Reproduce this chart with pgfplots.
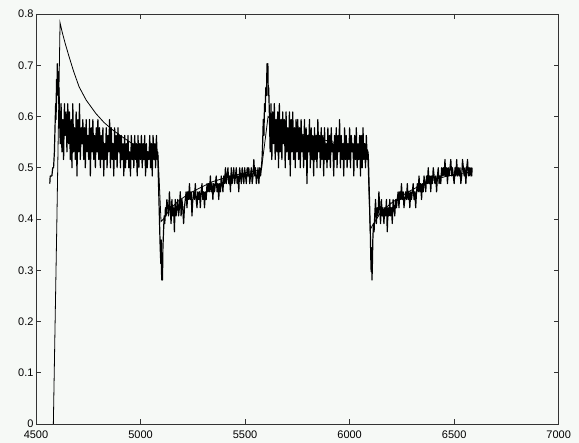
\documentclass[border=0pt]{standalone}
\usepackage{pgfplots}
\usepackage{pgfplotstable}
\pgfplotsset{compat=1.18}
\usepackage{fontspec}
\setmainfont{Liberation Sans}
\definecolor{paper}{RGB}{246,249,246}

% measured output: quantised, noisy
\pgfplotstableread{
x y
4566 0.469
4568 0.484
4572 0.484
4576 0.484
4580 0.500
4584 0.500
4588 0.531
4591 0.578
4594 0.625
4596 0.594
4598 0.672
4600 0.641
4602 0.703
4604 0.656
4606 0.688
4608 0.625
4610 0.656
4612 0.609
4616 0.547
4620 0.625
4624 0.531
4628 0.594
4632 0.516
4636 0.625
4640 0.563
4644 0.609
4648 0.531
4652 0.625
4656 0.547
4660 0.609
4664 0.516
4668 0.594
4672 0.500
4676 0.625
4680 0.531
4684 0.578
4688 0.516
4692 0.609
4696 0.484
4700 0.594
4704 0.531
4708 0.625
4712 0.516
4716 0.578
4720 0.547
4724 0.594
4728 0.516
4732 0.578
4736 0.500
4740 0.594
4744 0.531
4748 0.563
4752 0.516
4756 0.594
4760 0.484
4764 0.578
4768 0.531
4772 0.594
4776 0.516
4780 0.563
4784 0.500
4788 0.578
4792 0.531
4796 0.594
4800 0.516
4804 0.578
4808 0.500
4812 0.563
4816 0.516
4820 0.578
4824 0.484
4828 0.547
4832 0.516
4836 0.578
4840 0.500
4844 0.563
4848 0.531
4852 0.594
4856 0.500
4860 0.578
4864 0.516
4868 0.547
4872 0.484
4876 0.578
4880 0.516
4884 0.563
4888 0.500
4892 0.578
4896 0.531
4900 0.563
4904 0.500
4908 0.563
4912 0.516
4916 0.547
4920 0.484
4924 0.563
4928 0.500
4932 0.547
4936 0.516
4940 0.563
4944 0.500
4948 0.531
4952 0.484
4956 0.563
4960 0.516
4964 0.547
4968 0.500
4972 0.563
4976 0.516
4980 0.547
4984 0.484
4988 0.563
4992 0.500
4996 0.547
5000 0.516
5004 0.563
5008 0.500
5012 0.547
5016 0.516
5020 0.563
5024 0.484
5028 0.547
5032 0.500
5036 0.531
5040 0.516
5044 0.563
5048 0.500
5052 0.547
5056 0.484
5060 0.563
5064 0.516
5068 0.547
5072 0.500
5076 0.563
5080 0.516
5082 0.531
5085 0.484
5088 0.438
5091 0.391
5094 0.344
5097 0.313
5099 0.359
5101 0.281
5103 0.328
5105 0.281
5107 0.344
5110 0.375
5113 0.406
5116 0.391
5119 0.422
5122 0.406
5126 0.438
5130 0.422
5134 0.406
5138 0.453
5142 0.422
5146 0.391
5150 0.438
5154 0.406
5158 0.422
5162 0.375
5166 0.438
5170 0.406
5174 0.422
5178 0.438
5182 0.406
5186 0.422
5190 0.453
5194 0.406
5198 0.438
5202 0.422
5206 0.391
5210 0.422
5214 0.438
5218 0.453
5222 0.422
5226 0.453
5230 0.438
5234 0.469
5238 0.438
5242 0.453
5246 0.406
5250 0.438
5254 0.453
5258 0.438
5262 0.469
5266 0.438
5270 0.422
5274 0.453
5278 0.438
5282 0.453
5286 0.422
5290 0.453
5294 0.469
5298 0.438
5302 0.453
5306 0.422
5310 0.453
5314 0.438
5318 0.469
5322 0.453
5326 0.469
5330 0.453
5334 0.484
5338 0.453
5342 0.469
5346 0.438
5350 0.469
5354 0.453
5358 0.469
5362 0.484
5366 0.453
5370 0.469
5374 0.438
5378 0.469
5382 0.453
5386 0.484
5390 0.469
5394 0.453
5398 0.484
5402 0.469
5406 0.500
5410 0.469
5414 0.484
5418 0.500
5422 0.469
5426 0.484
5430 0.453
5434 0.500
5438 0.469
5442 0.484
5446 0.500
5450 0.469
5454 0.484
5458 0.500
5462 0.469
5466 0.484
5470 0.453
5474 0.500
5478 0.484
5482 0.469
5486 0.500
5490 0.484
5494 0.469
5498 0.500
5502 0.484
5506 0.469
5510 0.500
5514 0.484
5518 0.500
5522 0.469
5526 0.484
5530 0.500
5534 0.469
5538 0.484
5542 0.516
5546 0.484
5550 0.500
5554 0.469
5558 0.484
5562 0.500
5566 0.469
5570 0.500
5574 0.484
5578 0.500
5581 0.516
5584 0.547
5587 0.594
5590 0.563
5593 0.625
5596 0.609
5599 0.656
5602 0.641
5605 0.703
5607 0.672
5609 0.703
5611 0.641
5613 0.656
5616 0.609
5620 0.531
5624 0.625
5628 0.516
5632 0.609
5636 0.547
5640 0.625
5644 0.516
5648 0.594
5652 0.531
5656 0.609
5660 0.500
5664 0.625
5668 0.531
5672 0.594
5676 0.516
5680 0.609
5684 0.547
5688 0.594
5692 0.500
5696 0.609
5700 0.531
5704 0.578
5708 0.516
5712 0.609
5716 0.484
5720 0.594
5724 0.531
5728 0.609
5732 0.516
5736 0.578
5740 0.500
5744 0.594
5748 0.531
5752 0.594
5756 0.516
5760 0.578
5764 0.500
5768 0.594
5772 0.531
5776 0.563
5780 0.500
5784 0.594
5788 0.516
5792 0.578
5796 0.469
5800 0.563
5804 0.531
5808 0.594
5812 0.500
5816 0.578
5820 0.516
5824 0.563
5828 0.484
5832 0.578
5836 0.516
5840 0.563
5844 0.500
5848 0.594
5852 0.531
5856 0.563
5860 0.500
5864 0.578
5868 0.516
5872 0.563
5876 0.484
5880 0.578
5884 0.516
5888 0.547
5892 0.500
5896 0.578
5900 0.516
5904 0.563
5908 0.500
5912 0.578
5916 0.531
5920 0.547
5924 0.484
5928 0.563
5932 0.516
5936 0.578
5940 0.500
5944 0.563
5948 0.531
5952 0.594
5956 0.500
5960 0.563
5964 0.516
5968 0.547
5972 0.484
5976 0.578
5980 0.516
5984 0.563
5988 0.500
5992 0.547
5996 0.516
6000 0.578
6004 0.500
6008 0.563
6012 0.531
6016 0.547
6020 0.484
6024 0.563
6028 0.516
6032 0.578
6036 0.500
6040 0.547
6044 0.516
6048 0.563
6052 0.484
6056 0.563
6060 0.500
6064 0.578
6068 0.516
6072 0.547
6076 0.500
6080 0.563
6084 0.516
6088 0.531
6090 0.516
6093 0.469
6096 0.422
6099 0.375
6101 0.328
6103 0.297
6105 0.344
6107 0.281
6109 0.313
6111 0.359
6114 0.391
6117 0.375
6120 0.406
6124 0.438
6128 0.391
6132 0.422
6136 0.406
6140 0.453
6144 0.422
6148 0.391
6152 0.438
6156 0.406
6160 0.422
6164 0.391
6168 0.422
6172 0.406
6176 0.438
6180 0.375
6184 0.422
6188 0.406
6192 0.438
6196 0.406
6200 0.422
6204 0.391
6208 0.438
6212 0.422
6216 0.406
6220 0.438
6224 0.422
6228 0.438
6232 0.453
6236 0.422
6240 0.453
6244 0.438
6248 0.469
6252 0.438
6256 0.453
6260 0.422
6264 0.438
6268 0.453
6272 0.438
6276 0.469
6280 0.438
6284 0.453
6288 0.422
6292 0.453
6296 0.438
6300 0.453
6304 0.469
6308 0.438
6312 0.453
6316 0.422
6320 0.453
6324 0.469
6328 0.453
6332 0.484
6336 0.453
6340 0.469
6344 0.438
6348 0.469
6352 0.453
6356 0.484
6360 0.469
6364 0.453
6368 0.484
6372 0.469
6376 0.500
6380 0.469
6384 0.484
6388 0.453
6392 0.484
6396 0.469
6400 0.500
6404 0.484
6408 0.469
6412 0.484
6416 0.453
6420 0.484
6424 0.500
6428 0.469
6432 0.484
6436 0.469
6440 0.500
6444 0.484
6448 0.500
6452 0.484
6456 0.516
6460 0.484
6464 0.500
6468 0.469
6472 0.500
6476 0.484
6480 0.500
6484 0.516
6488 0.484
6492 0.500
6496 0.484
6500 0.469
6504 0.500
6508 0.484
6512 0.516
6516 0.484
6520 0.500
6524 0.484
6528 0.500
6532 0.469
6536 0.484
6540 0.516
6544 0.500
6548 0.484
6552 0.500
6556 0.469
6560 0.500
6564 0.516
6568 0.484
6572 0.500
6576 0.484
6580 0.500
6584 0.484
6586 0.500
}\measured

% model response, smooth
\pgfplotstableread{
x y
4583 0.000
4600 0.400
4615 0.783
4625 0.765
4640 0.742
4658 0.717
4680 0.688
4706 0.658
4740 0.632
4786 0.606
4826 0.588
4866 0.574
4906 0.562
4946 0.551
4994 0.538
5040 0.530
5084 0.524
5098 0.395
5110 0.400
5138 0.418
5180 0.435
5234 0.450
5290 0.462
5346 0.473
5426 0.483
5500 0.490
5578 0.496
5610 0.600
5650 0.585
5700 0.575
5800 0.562
5900 0.552
6000 0.543
6086 0.535
6098 0.379
6110 0.388
6146 0.411
6190 0.428
6240 0.443
6290 0.455
6340 0.466
6400 0.476
6460 0.483
6520 0.488
6586 0.492
}\model

\begin{document}
\begin{tikzpicture}
\fill[paper] (-36pt,-19pt) rectangle (543pt,424pt);
\begin{axis}[
  at={(0,0)}, anchor=south west,
  scale only axis,
  width=522.7pt, height=410pt,
  xmin=4500, xmax=7000,
  ymin=0, ymax=0.8,
  xtick={4500,5000,5500,6000,6500,7000},
  ytick={0,0.1,0.2,0.3,0.4,0.5,0.6,0.7,0.8},
  tick align=inside,
  major tick length=5pt,
  axis line style={black!80, line width=0.6pt},
  every tick/.style={black!80, line width=0.6pt},
  tick label style={font=\fontsize{11}{13}\selectfont},
  xticklabel style={yshift=-3pt},
  yticklabel style={xshift=1pt},
  /pgf/number format/assume math mode=true,
  /pgf/number format/set thousands separator={},
  yticklabel={\pgfmathprintnumber[fixed,precision=1]{\tick}},
]
\addplot[black, line width=1.2pt, line join=round, sharp plot] table[x=x, y=y] {\measured};
\addplot[black, line width=0.8pt, sharp plot] table[x=x, y=y] {\model};
\end{axis}
\end{tikzpicture}
\end{document}
